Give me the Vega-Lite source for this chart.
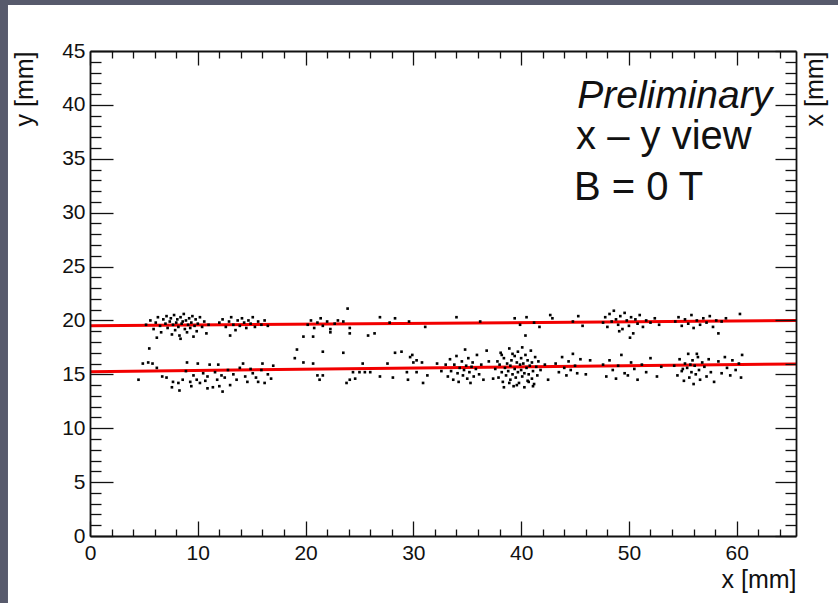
{
  "$schema": "https://vega.github.io/schema/vega-lite/v6.json",
  "width": 706,
  "height": 485,
  "autosize": {"type": "none"},
  "padding": {"left": 90, "top": 51, "right": 42, "bottom": 67},
  "background": "#575a6c",
  "config": {
    "view": {"stroke": null, "fill": "white"},
    "font": "Liberation Sans",
    "axis": {
      "grid": false,
      "domainColor": "#111111",
      "domainWidth": 1.8,
      "tickColor": "#111111",
      "tickWidth": 1.3,
      "labelColor": "#111111",
      "labelFont": "Liberation Sans",
      "labelFontSize": 21,
      "labelOverlap": false,
      "labelFlush": false,
      "titleFont": "Liberation Sans",
      "titleFontSize": 25,
      "titleFontWeight": "normal",
      "titleColor": "#111111"
    }
  },
  "datasets": {
    "hits": [
      {"x":5.2,"y":19.6},{"x":5.6,"y":20.0},{"x":5.9,"y":19.2},{"x":6.1,"y":19.8},{"x":6.3,"y":20.3},{"x":6.5,"y":19.5},{"x":6.6,"y":18.9},{"x":6.8,"y":20.1},{"x":7.0,"y":19.7},{"x":7.1,"y":20.4},{"x":7.2,"y":19.3},{"x":7.4,"y":19.9},{"x":7.5,"y":20.2},{"x":7.6,"y":18.7},{"x":7.7,"y":19.6},{"x":7.8,"y":20.5},{"x":7.9,"y":19.1},{"x":8.0,"y":19.8},{"x":8.1,"y":20.1},{"x":8.2,"y":19.4},{"x":8.3,"y":18.6},{"x":8.4,"y":20.3},{"x":8.5,"y":19.7},{"x":8.6,"y":19.9},{"x":8.7,"y":20.6},{"x":8.8,"y":19.2},{"x":8.9,"y":20.0},{"x":9.0,"y":18.9},{"x":9.1,"y":19.6},{"x":9.2,"y":20.2},{"x":9.3,"y":19.3},{"x":9.4,"y":19.8},{"x":9.5,"y":20.4},{"x":9.6,"y":18.5},{"x":9.7,"y":19.5},{"x":9.8,"y":20.1},{"x":9.9,"y":19.0},{"x":10.0,"y":19.7},{"x":10.2,"y":20.3},{"x":10.4,"y":19.4},{"x":10.6,"y":19.9},{"x":10.8,"y":18.8},{"x":11.0,"y":19.6},{"x":6.2,"y":18.4},{"x":8.4,"y":18.3},{"x":5.5,"y":17.4},
      {"x":12.0,"y":19.8},{"x":12.3,"y":20.1},{"x":12.6,"y":19.4},{"x":12.9,"y":19.9},{"x":13.1,"y":20.3},{"x":13.3,"y":19.6},{"x":13.5,"y":19.1},{"x":13.7,"y":20.0},{"x":13.9,"y":19.5},{"x":14.1,"y":20.2},{"x":14.3,"y":19.8},{"x":14.5,"y":19.3},{"x":14.7,"y":20.0},{"x":14.9,"y":19.7},{"x":15.1,"y":20.3},{"x":15.3,"y":19.4},{"x":15.6,"y":19.9},{"x":15.9,"y":19.6},{"x":16.2,"y":20.0},{"x":16.5,"y":19.5},{"x":13.0,"y":18.6},
      {"x":20.2,"y":19.6},{"x":20.5,"y":20.0},{"x":20.8,"y":19.3},{"x":21.1,"y":19.8},{"x":21.4,"y":20.2},{"x":21.6,"y":19.5},{"x":22.0,"y":19.9},{"x":22.3,"y":19.2},{"x":22.7,"y":19.7},{"x":23.0,"y":20.0},
      {"x":23.9,"y":21.1},{"x":23.5,"y":19.9},{"x":24.1,"y":19.3},{"x":24.1,"y":18.8},{"x":19.8,"y":18.5},{"x":20.7,"y":18.5},{"x":22.3,"y":18.9},{"x":25.8,"y":18.6},{"x":26.4,"y":18.8},{"x":26.9,"y":20.3},{"x":27.8,"y":19.8},{"x":28.3,"y":20.2},{"x":29.6,"y":19.9},{"x":31.1,"y":19.4},{"x":36.2,"y":19.9},{"x":34.0,"y":20.3},
      {"x":39.4,"y":20.2},{"x":40.4,"y":18.6},{"x":40.5,"y":20.3},{"x":41.7,"y":19.4},{"x":42.7,"y":20.5},{"x":42.9,"y":20.2},{"x":41.2,"y":19.8},{"x":39.9,"y":19.6},{"x":44.8,"y":19.9},{"x":45.3,"y":20.4},{"x":45.7,"y":19.5},
      {"x":47.6,"y":19.8},{"x":47.8,"y":20.3},{"x":48.0,"y":19.4},{"x":48.2,"y":20.6},{"x":48.4,"y":19.9},{"x":48.6,"y":20.9},{"x":48.8,"y":20.1},{"x":49.0,"y":19.6},{"x":49.2,"y":20.4},{"x":49.4,"y":19.2},{"x":49.6,"y":20.7},{"x":49.8,"y":20.0},{"x":50.0,"y":19.5},{"x":50.2,"y":20.3},{"x":50.4,"y":18.8},{"x":50.6,"y":20.1},{"x":50.8,"y":19.7},{"x":51.0,"y":20.5},{"x":51.3,"y":19.4},{"x":51.6,"y":20.0},{"x":52.0,"y":19.8},{"x":52.4,"y":20.2},{"x":52.8,"y":19.6},{"x":50.1,"y":18.4},{"x":49.1,"y":19.0},
      {"x":54.3,"y":19.9},{"x":54.6,"y":20.3},{"x":54.9,"y":19.5},{"x":55.2,"y":20.1},{"x":55.5,"y":19.7},{"x":55.8,"y":20.5},{"x":56.0,"y":19.3},{"x":56.3,"y":20.0},{"x":56.6,"y":19.6},{"x":56.9,"y":20.2},{"x":57.2,"y":19.8},{"x":57.5,"y":20.4},{"x":57.8,"y":19.4},{"x":58.1,"y":20.0},{"x":58.3,"y":18.8},{"x":58.6,"y":19.9},{"x":59.0,"y":20.2},{"x":60.3,"y":20.6},
      {"x":4.5,"y":14.5},{"x":4.9,"y":16.0},{"x":5.4,"y":16.1},{"x":5.8,"y":16.0},{"x":6.2,"y":15.6},{"x":6.7,"y":14.8},{"x":7.1,"y":14.7},{"x":7.6,"y":13.8},{"x":7.7,"y":14.3},{"x":8.2,"y":14.2},{"x":8.3,"y":13.5},{"x":8.6,"y":14.5},{"x":8.9,"y":15.3},{"x":9.0,"y":16.1},{"x":9.3,"y":14.3},{"x":9.6,"y":14.9},{"x":9.9,"y":14.5},{"x":10.0,"y":16.0},{"x":10.2,"y":14.2},{"x":10.5,"y":15.1},{"x":10.9,"y":13.7},{"x":10.9,"y":14.8},{"x":11.1,"y":15.9},{"x":11.4,"y":13.8},{"x":11.6,"y":15.2},{"x":11.8,"y":14.5},{"x":11.9,"y":15.9},{"x":12.2,"y":14.9},{"x":12.3,"y":13.4},{"x":12.5,"y":14.7},{"x":12.8,"y":15.4},{"x":13.0,"y":14.0},{"x":13.3,"y":15.0},{"x":13.6,"y":14.5},{"x":13.9,"y":15.6},{"x":14.2,"y":16.0},{"x":14.4,"y":14.8},{"x":14.6,"y":14.3},{"x":14.9,"y":15.5},{"x":15.1,"y":15.1},{"x":15.4,"y":14.7},{"x":15.6,"y":14.3},{"x":15.9,"y":15.4},{"x":16.0,"y":16.0},{"x":16.2,"y":14.2},{"x":16.5,"y":15.0},{"x":16.8,"y":14.6},{"x":17.0,"y":15.8},{"x":12.0,"y":13.9},{"x":10.7,"y":14.4},{"x":9.4,"y":13.9},
      {"x":19.2,"y":17.3},{"x":21.6,"y":17.1},{"x":23.5,"y":17.0},{"x":19.8,"y":16.1},{"x":20.7,"y":16.0},{"x":19.0,"y":16.5},{"x":21.1,"y":14.9},{"x":21.6,"y":14.9},{"x":21.3,"y":14.5},{"x":24.4,"y":15.2},{"x":25.0,"y":15.2},{"x":25.5,"y":15.2},{"x":26.0,"y":15.2},{"x":24.1,"y":14.5},{"x":24.6,"y":14.6},{"x":25.3,"y":16.0},{"x":26.9,"y":14.8},{"x":27.6,"y":16.0},{"x":28.3,"y":17.0},{"x":28.9,"y":17.1},{"x":29.7,"y":16.6},{"x":29.9,"y":16.8},{"x":30.0,"y":16.1},{"x":30.3,"y":16.3},{"x":30.8,"y":16.1},{"x":30.3,"y":15.2},{"x":29.4,"y":15.2},{"x":29.5,"y":14.5},{"x":30.9,"y":14.2},{"x":31.3,"y":14.9},{"x":28.1,"y":14.7},{"x":23.8,"y":14.2},
      {"x":33.0,"y":15.9},{"x":33.2,"y":14.8},{"x":33.4,"y":16.4},{"x":33.5,"y":15.3},{"x":33.7,"y":14.5},{"x":33.8,"y":15.9},{"x":34.0,"y":16.7},{"x":34.1,"y":15.1},{"x":34.2,"y":14.3},{"x":34.3,"y":15.6},{"x":34.5,"y":16.2},{"x":34.6,"y":14.9},{"x":34.7,"y":15.4},{"x":34.8,"y":17.3},{"x":34.9,"y":15.8},{"x":35.0,"y":14.6},{"x":35.1,"y":16.5},{"x":35.2,"y":15.2},{"x":35.3,"y":14.2},{"x":35.4,"y":15.7},{"x":35.5,"y":16.1},{"x":35.6,"y":14.8},{"x":35.8,"y":15.5},{"x":35.9,"y":16.8},{"x":36.1,"y":15.0},{"x":36.3,"y":15.9},{"x":36.5,"y":14.5},{"x":32.2,"y":16.0},{"x":32.6,"y":15.3},{"x":37.0,"y":16.2},
      {"x":37.6,"y":15.5},{"x":37.8,"y":16.2},{"x":37.9,"y":14.7},{"x":38.0,"y":15.9},{"x":38.1,"y":17.0},{"x":38.2,"y":15.2},{"x":38.3,"y":14.3},{"x":38.4,"y":16.5},{"x":38.5,"y":15.6},{"x":38.6,"y":14.9},{"x":38.7,"y":16.0},{"x":38.8,"y":15.3},{"x":38.9,"y":17.4},{"x":39.0,"y":14.5},{"x":39.0,"y":15.8},{"x":39.1,"y":16.3},{"x":39.2,"y":15.0},{"x":39.3,"y":13.9},{"x":39.4,"y":16.7},{"x":39.4,"y":15.5},{"x":39.5,"y":14.7},{"x":39.6,"y":16.1},{"x":39.7,"y":15.2},{"x":39.7,"y":17.1},{"x":39.8,"y":14.2},{"x":39.9,"y":15.9},{"x":40.0,"y":16.5},{"x":40.0,"y":15.4},{"x":40.1,"y":14.8},{"x":40.2,"y":16.0},{"x":40.3,"y":15.1},{"x":40.3,"y":13.8},{"x":40.4,"y":16.8},{"x":40.5,"y":15.6},{"x":40.6,"y":14.4},{"x":40.6,"y":16.3},{"x":40.7,"y":15.0},{"x":40.8,"y":15.8},{"x":40.9,"y":17.2},{"x":41.0,"y":14.6},{"x":41.0,"y":16.1},{"x":41.1,"y":15.3},{"x":41.2,"y":14.1},{"x":41.3,"y":16.6},{"x":41.4,"y":15.7},{"x":41.5,"y":14.9},{"x":41.6,"y":16.2},{"x":41.8,"y":15.4},{"x":39.2,"y":16.9},{"x":38.4,"y":13.8},{"x":40.1,"y":17.5},{"x":39.6,"y":14.0},{"x":41.1,"y":13.9},{"x":38.9,"y":14.2},{"x":40.7,"y":14.3},{"x":38.2,"y":16.8},{"x":37.4,"y":14.6},{"x":42.2,"y":15.9},{"x":42.5,"y":14.5},{"x":36.8,"y":17.2},
      {"x":43.2,"y":16.0},{"x":43.5,"y":15.2},{"x":43.8,"y":16.6},{"x":44.0,"y":15.6},{"x":44.2,"y":14.9},{"x":44.4,"y":16.2},{"x":44.6,"y":15.4},{"x":44.8,"y":16.9},{"x":45.0,"y":15.8},{"x":45.2,"y":15.1},{"x":45.5,"y":16.4},{"x":46.0,"y":15.0},{"x":46.4,"y":16.3},
      {"x":47.6,"y":15.9},{"x":47.9,"y":14.8},{"x":48.2,"y":16.3},{"x":48.5,"y":15.4},{"x":48.8,"y":14.6},{"x":49.0,"y":15.8},{"x":49.3,"y":16.8},{"x":49.6,"y":15.1},{"x":49.9,"y":14.9},{"x":50.2,"y":16.1},{"x":50.5,"y":15.5},{"x":50.8,"y":14.5},{"x":51.2,"y":15.9},{"x":51.6,"y":15.2},{"x":52.0,"y":16.5},{"x":52.6,"y":14.8},{"x":53.0,"y":15.7},
      {"x":54.2,"y":15.8},{"x":54.5,"y":14.9},{"x":54.7,"y":16.4},{"x":54.9,"y":15.3},{"x":55.1,"y":14.4},{"x":55.2,"y":16.0},{"x":55.4,"y":15.6},{"x":55.5,"y":16.9},{"x":55.6,"y":14.7},{"x":55.8,"y":15.2},{"x":55.9,"y":16.3},{"x":56.0,"y":14.1},{"x":56.1,"y":15.8},{"x":56.2,"y":15.0},{"x":56.4,"y":16.6},{"x":56.5,"y":15.4},{"x":56.6,"y":14.5},{"x":56.8,"y":16.1},{"x":57.0,"y":15.7},{"x":57.2,"y":14.8},{"x":57.4,"y":16.4},{"x":57.6,"y":15.2},{"x":57.9,"y":14.3},{"x":55.7,"y":15.9},{"x":56.3,"y":16.9},{"x":55.0,"y":15.5},
      {"x":58.3,"y":16.2},{"x":58.6,"y":15.1},{"x":58.9,"y":16.6},{"x":59.1,"y":15.6},{"x":59.4,"y":14.9},{"x":59.6,"y":16.3},{"x":59.9,"y":15.4},{"x":60.2,"y":16.0},{"x":60.4,"y":14.7},{"x":60.5,"y":16.8}
    ],
    "tracks": [
      {"track":"upper","x":0,"y":19.5},{"track":"upper","x":65.5,"y":20.0},
      {"track":"lower","x":0,"y":15.25},{"track":"lower","x":65.5,"y":15.97}
    ],
    "notes": [
      {"text":"Preliminary","x":45.2,"y":39.7,"kind":"head"},
      {"text":"x – y view","x":45.1,"y":35.9,"kind":"body"},
      {"text":"B = 0 T","x":44.9,"y":31.2,"kind":"body"}
    ]
  },
  "resolve": {"axis": {"x": "independent", "y": "independent"}},
  "layer": [
    {
      "data": {"values": [{}]},
      "mark": {"type": "rect", "fill": "white", "clip": false},
      "encoding": {
        "x": {"datum": -7.61, "type": "quantitative", "scale": {"domain": [0, 65.5], "nice": false, "zero": false}, "axis": null},
        "x2": {"datum": 69.5},
        "y": {"datum": -6.5, "type": "quantitative", "scale": {"domain": [0, 45], "nice": false, "zero": false}, "axis": null},
        "y2": {"datum": 49.27}
      }
    },
    {
      "data": {"name": "tracks"},
      "mark": {"type": "line", "color": "#f20000", "strokeWidth": 3},
      "encoding": {
        "detail": {"field": "track"},
        "x": {"field": "x", "type": "quantitative", "scale": {"domain": [0, 65.5], "nice": false, "zero": false},
          "axis": {"orient": "top", "zindex": 2, "values": [0,2,4,6,8,10,12,14,16,18,20,22,24,26,28,30,32,34,36,38,40,42,44,46,48,50,52,54,56,58,60,62,64], "labels": false, "title": null,
            "tickSize": {"condition": {"test": "datum.value % 10 === 0", "value": -14}, "value": -7}}},
        "y": {"field": "y", "type": "quantitative", "scale": {"domain": [0, 45], "nice": false, "zero": false},
          "axis": {"orient": "right", "zindex": 2, "values": [0,1,2,3,4,5,6,7,8,9,10,11,12,13,14,15,16,17,18,19,20,21,22,23,24,25,26,27,28,29,30,31,32,33,34,35,36,37,38,39,40,41,42,43,44,45], "labels": false,
            "tickSize": {"condition": {"test": "datum.value % 5 === 0", "value": -21}, "value": -11},
            "title": "x [mm]", "titleAngle": 270, "titleAlign": "right", "titleBaseline": "bottom", "titleX": 31, "titleY": 0}}
      }
    },
    {
      "data": {"name": "hits"},
      "mark": {"type": "square", "size": 7, "color": "black", "opacity": 1},
      "encoding": {
        "x": {"field": "x", "type": "quantitative", "scale": {"domain": [0, 65.5], "nice": false, "zero": false},
          "axis": {"orient": "bottom", "zindex": 2, "values": [0,2,4,6,8,10,12,14,16,18,20,22,24,26,28,30,32,34,36,38,40,42,44,46,48,50,52,54,56,58,60,62,64],
            "labelExpr": "datum.value % 10 === 0 ? datum.label : ''",
            "tickSize": {"condition": {"test": "datum.value % 10 === 0", "value": -15}, "value": -7},
            "labelPadding": 21,
            "title": "x [mm]", "titleAlign": "right", "titleBaseline": "alphabetic", "titleX": 706, "titleY": 51}},
        "y": {"field": "y", "type": "quantitative", "scale": {"domain": [0, 45], "nice": false, "zero": false},
          "axis": {"orient": "left", "zindex": 2, "values": [0,1,2,3,4,5,6,7,8,9,10,11,12,13,14,15,16,17,18,19,20,21,22,23,24,25,26,27,28,29,30,31,32,33,34,35,36,37,38,39,40,41,42,43,44,45],
            "labelExpr": "datum.value % 5 === 0 ? datum.label : ''",
            "tickSize": {"condition": {"test": "datum.value % 5 === 0", "value": -23}, "value": -11},
            "labelPadding": 28,
            "title": "y [mm]", "titleAngle": 270, "titleAlign": "right", "titleBaseline": "bottom", "titleX": -53, "titleY": 0}}
      }
    },
    {
      "data": {"name": "notes"},
      "transform": [{"filter": "datum.kind === 'head'"}],
      "mark": {"type": "text", "align": "left", "baseline": "alphabetic", "fontSize": 39, "font": "Liberation Sans", "fontStyle": "italic", "color": "#111111"},
      "encoding": {
        "x": {"field": "x", "type": "quantitative", "scale": {"domain": [0, 65.5], "nice": false, "zero": false}, "axis": null},
        "y": {"field": "y", "type": "quantitative", "scale": {"domain": [0, 45], "nice": false, "zero": false}, "axis": null},
        "text": {"field": "text"}
      }
    },
    {
      "data": {"name": "notes"},
      "transform": [{"filter": "datum.kind === 'body'"}],
      "mark": {"type": "text", "align": "left", "baseline": "alphabetic", "fontSize": 40, "font": "Liberation Sans", "color": "#111111"},
      "encoding": {
        "x": {"field": "x", "type": "quantitative", "scale": {"domain": [0, 65.5], "nice": false, "zero": false}, "axis": null},
        "y": {"field": "y", "type": "quantitative", "scale": {"domain": [0, 45], "nice": false, "zero": false}, "axis": null},
        "text": {"field": "text"}
      }
    }
  ]
}
